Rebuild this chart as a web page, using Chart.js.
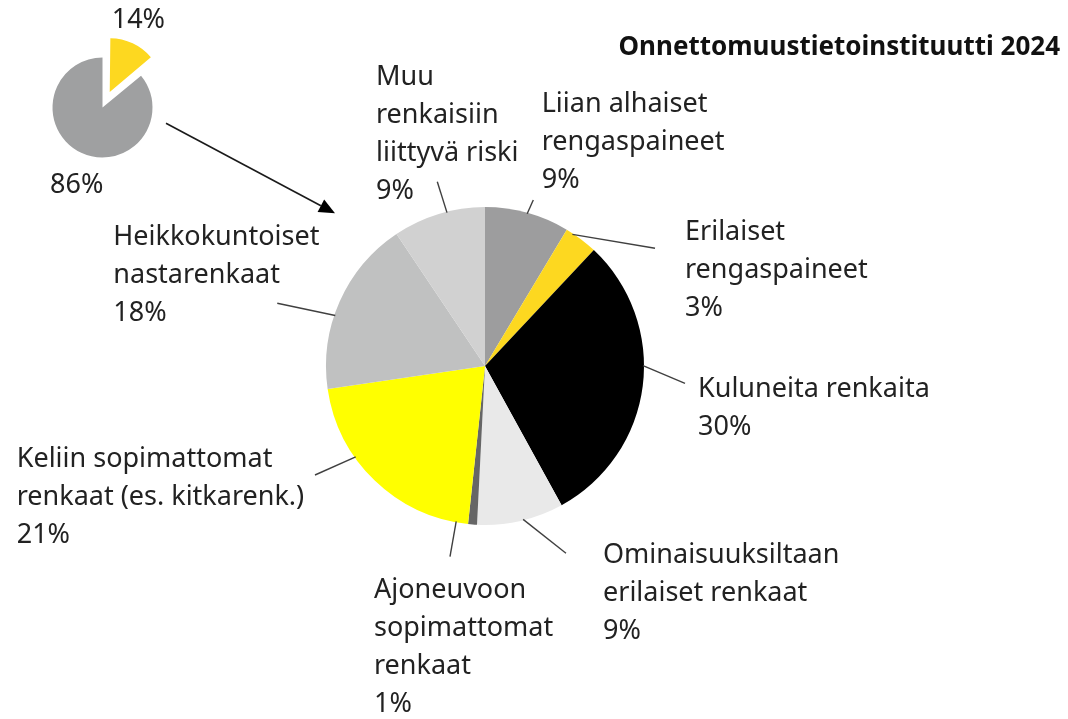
<!DOCTYPE html>
<html><head><meta charset="utf-8">
<script src="https://cdn.jsdelivr.net/npm/chart.js@4.4.0/dist/chart.umd.min.js"></script>
<style>
html,body{margin:0;padding:0;background:#fff;width:1068px;height:719px;overflow:hidden}
.box{position:absolute;left:0;top:0}
</style></head><body>
<div class="box" style="width:1068px;height:719px"><canvas id="main"></canvas></div>
<div class="box" style="width:205px;height:215px"><canvas id="mini"></canvas></div>
<script>
// ---- data ----
const categories = [
  ['Liian alhaiset', 'rengaspaineet'],
  ['Erilaiset', 'rengaspaineet'],
  ['Kuluneita renkaita'],
  ['Ominaisuuksiltaan', 'erilaiset renkaat'],
  ['Ajoneuvoon', 'sopimattomat', 'renkaat'],
  ['Keliin sopimattomat', 'renkaat (es. kitkarenk.)'],
  ['Heikkokuntoiset', 'nastarenkaat'],
  ['Muu', 'renkaisiin', 'liittyvä riski']
];
const shares = [8.6, 3.4, 30.0, 8.8, 0.9, 21.0, 17.9, 9.4];
const miniCategories = ['Renkaat', 'Muut'];
const miniShares = [14, 86];
const titleText = 'Onnettomuustietoinstituutti 2024';

// ---- styles / layout ----
const colors = ['#9d9d9e', '#fdd820', '#000000', '#e9e9e9', '#666666', '#ffff00', '#c0c1c1', '#d1d1d1'];
const miniColors = ['#fdd820', '#9fa0a1'];
const FONT = '27px "Noto Sans", "Open Sans", sans-serif';
const TEXT = '#222222';
const LH = 38;
// label anchor x, first baseline y, leader angle tweak (deg), leader end x, y
const labelLayout = [
  [541.7, 111.7, 0, 533.3, 200],
  [685, 240, -3.5, 655, 248.3],
  [698, 396.7, -7.3, 685, 383.3],
  [603, 563, -1, 566, 553.3],
  [374, 598, 6, 450, 556.7],
  [16.7, 466.7, 11, 315, 475],
  [113.3, 245, -5.3, 277.3, 303.3],
  [376, 85, 3, 437.3, 181.7]
];

const labelPlugin = {
  id: 'labels',
  afterDraw(chart) {
    const ctx = chart.ctx;
    const meta = chart.getDatasetMeta(0);
    ctx.save();
    ctx.strokeStyle = '#404040';
    ctx.lineWidth = 1.4;
    meta.data.forEach((arc, i) => {
      const p = arc.getProps(['x', 'y', 'startAngle', 'endAngle', 'outerRadius'], true);
      const L = labelLayout[i];
      const a = (p.startAngle + p.endAngle) / 2 + L[2] * Math.PI / 180;
      const sx = p.x + Math.cos(a) * (p.outerRadius - 1);
      const sy = p.y + Math.sin(a) * (p.outerRadius - 1);
      ctx.beginPath(); ctx.moveTo(sx, sy); ctx.lineTo(L[3], L[4]); ctx.stroke();
    });
    ctx.fillStyle = TEXT;
    ctx.font = FONT;
    ctx.textAlign = 'left';
    ctx.textBaseline = 'alphabetic';
    categories.forEach((lines, i) => {
      const L = labelLayout[i];
      const all = lines.concat([Math.round(shares[i]) + '%']);
      all.forEach((t, j) => ctx.fillText(t, L[0], L[1] + j * LH));
    });
    // title
    ctx.font = 'bold 26px "Noto Sans", "Open Sans", sans-serif';
    ctx.fillStyle = '#111';
    ctx.textAlign = 'right';
    ctx.fillText(titleText, 1060, 55);
    // arrow from mini pie to main pie
    const x1 = 166, y1 = 123.3, x2 = 335, y2 = 213.3;
    const ang = Math.atan2(y2 - y1, x2 - x1);
    const hl = 16, hw = 7;
    ctx.strokeStyle = '#1a1a1a';
    ctx.lineWidth = 1.6;
    ctx.beginPath(); ctx.moveTo(x1, y1);
    ctx.lineTo(x2 - Math.cos(ang) * hl, y2 - Math.sin(ang) * hl); ctx.stroke();
    ctx.fillStyle = '#000';
    ctx.beginPath();
    ctx.moveTo(x2, y2);
    ctx.lineTo(x2 - Math.cos(ang) * hl - Math.sin(ang) * hw, y2 - Math.sin(ang) * hl + Math.cos(ang) * hw);
    ctx.lineTo(x2 - Math.cos(ang) * hl + Math.sin(ang) * hw, y2 - Math.sin(ang) * hl - Math.cos(ang) * hw);
    ctx.closePath(); ctx.fill();
    ctx.restore();
  }
};

new Chart(document.getElementById('main'), {
  type: 'pie',
  data: {
    labels: categories,
    datasets: [{ data: shares, backgroundColor: colors, borderWidth: 0 }]
  },
  options: {
    responsive: true, maintainAspectRatio: false, animation: false,
    radius: 159,
    layout: { padding: { left: 0, right: 98, top: 13, bottom: 0 } },
    plugins: { legend: { display: false }, tooltip: { enabled: false } }
  },
  plugins: [labelPlugin]
});

const miniLabelPlugin = {
  id: 'miniLabels',
  afterDraw(chart) {
    const ctx = chart.ctx;
    ctx.save();
    ctx.fillStyle = TEXT;
    ctx.font = FONT;
    ctx.textAlign = 'left';
    ctx.fillText(miniShares[0] + '%', 111.7, 28.3);
    ctx.fillText(miniShares[1] + '%', 50, 193.3);
    ctx.restore();
  }
};

new Chart(document.getElementById('mini'), {
  type: 'pie',
  data: {
    labels: miniCategories,
    datasets: [{ data: miniShares, backgroundColor: miniColors, borderWidth: 0, offset: [68, 0] }]
  },
  options: {
    responsive: true, maintainAspectRatio: false, animation: false,
    radius: 50,
    layout: { padding: 0 },
    plugins: { legend: { display: false }, tooltip: { enabled: false } }
  },
  plugins: [miniLabelPlugin]
});
</script>
</body></html>
